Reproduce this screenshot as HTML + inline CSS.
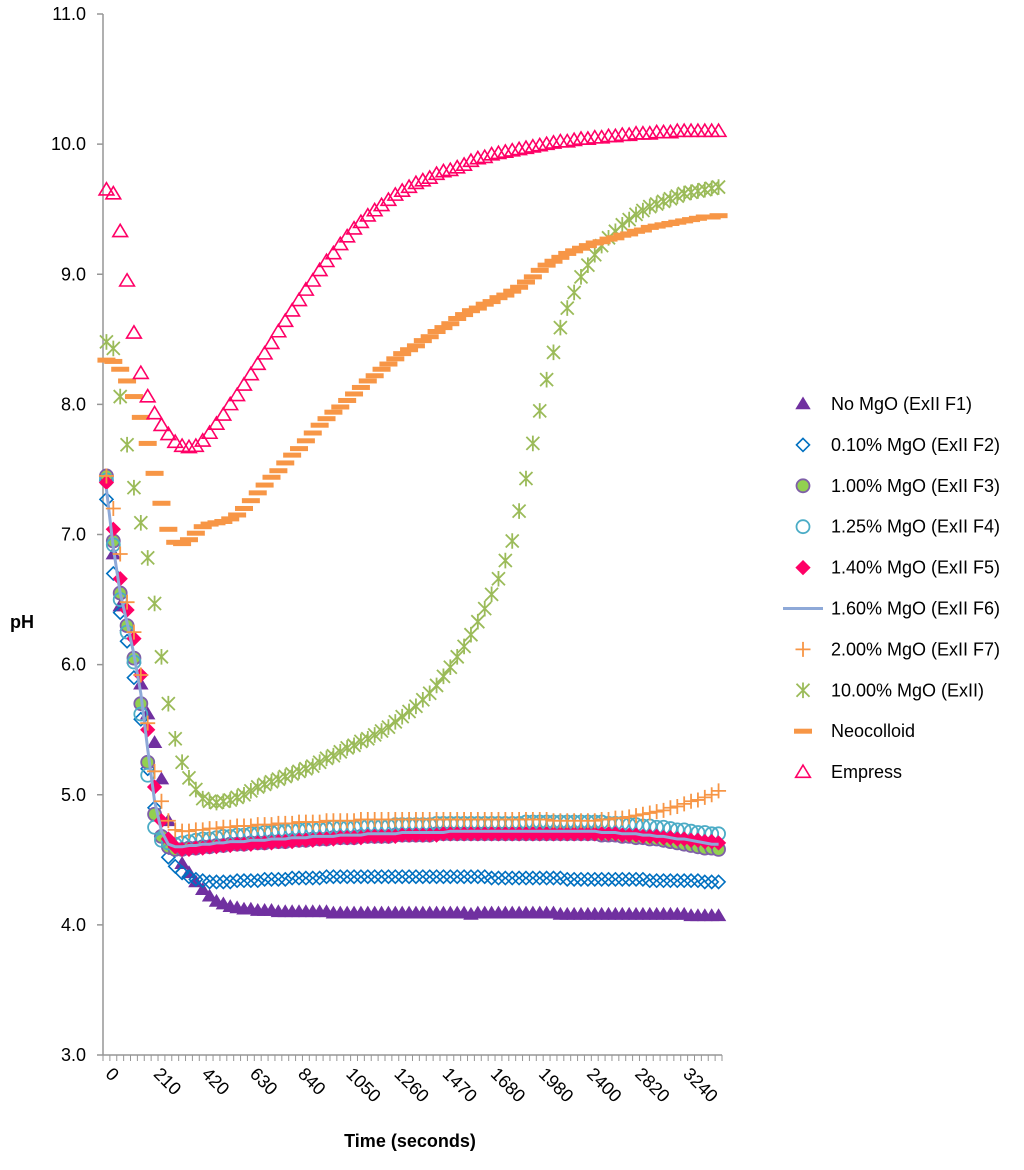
<!DOCTYPE html>
<html><head><meta charset="utf-8"><style>
body{margin:0;background:#fff;}
svg{display:block;font-family:"Liberation Sans",sans-serif;}
</style></head><body>
<svg id="chart" width="1024" height="1170" viewBox="0 0 1024 1170" xmlns="http://www.w3.org/2000/svg">
<rect width="1024" height="1170" fill="#fff"/>
<g id="grid"></g><g id="marks"></g><g id="legend"></g>
</svg>
<script>
const times=[0,30,60,90,120,150,180,210,240,270,300,330,360,390,420,450,480,510,540,570,600,630,660,690,720,750,780,810,840,870,900,930,960,990,1020,1050,1080,1110,1140,1170,1200,1230,1260,1290,1320,1350,1380,1410,1440,1470,1500,1530,1560,1590,1620,1650,1680,1710,1740,1770,1800,1860,1920,1980,2040,2100,2160,2220,2280,2340,2400,2460,2520,2580,2640,2700,2760,2820,2880,2940,3000,3060,3120,3180,3240,3300,3360,3420,3480,3540];
const tickLabels=["0","210","420","630","840","1050","1260","1470","1680","1980","2400","2820","3240"];
const yTicks=[3,4,5,6,7,8,9,10,11];
const noMgO=[7.45,6.85,6.45,6.30,6.05,5.85,5.62,5.40,5.12,4.80,4.58,4.47,4.40,4.33,4.27,4.22,4.18,4.16,4.14,4.13,4.12,4.12,4.11,4.11,4.11,4.10,4.10,4.10,4.10,4.10,4.10,4.10,4.10,4.09,4.09,4.09,4.09,4.09,4.09,4.09,4.09,4.09,4.09,4.09,4.09,4.09,4.09,4.09,4.09,4.09,4.09,4.09,4.09,4.08,4.09,4.09,4.09,4.09,4.09,4.09,4.09,4.09,4.09,4.09,4.09,4.09,4.08,4.08,4.08,4.08,4.08,4.08,4.08,4.08,4.08,4.08,4.08,4.08,4.08,4.08,4.08,4.08,4.08,4.08,4.08,4.07,4.07,4.07,4.07,4.07];
const mgo010=[7.27,6.70,6.40,6.18,5.90,5.58,5.20,4.90,4.68,4.52,4.45,4.40,4.37,4.35,4.34,4.33,4.33,4.33,4.33,4.34,4.34,4.34,4.34,4.35,4.35,4.35,4.35,4.36,4.36,4.36,4.36,4.36,4.37,4.37,4.37,4.37,4.37,4.37,4.37,4.37,4.37,4.37,4.37,4.37,4.37,4.37,4.37,4.37,4.37,4.37,4.37,4.37,4.37,4.37,4.37,4.37,4.36,4.36,4.36,4.36,4.36,4.36,4.36,4.36,4.36,4.36,4.36,4.35,4.35,4.35,4.35,4.35,4.35,4.35,4.35,4.35,4.35,4.35,4.35,4.34,4.34,4.34,4.34,4.34,4.34,4.34,4.34,4.33,4.33,4.33];
const mgo100=[7.45,6.95,6.55,6.30,6.05,5.70,5.25,4.85,4.68,4.60,4.58,4.58,4.59,4.59,4.60,4.60,4.61,4.61,4.62,4.62,4.62,4.63,4.63,4.63,4.64,4.64,4.64,4.65,4.65,4.65,4.66,4.66,4.66,4.67,4.67,4.67,4.67,4.68,4.68,4.68,4.68,4.68,4.69,4.69,4.69,4.69,4.69,4.69,4.70,4.70,4.70,4.70,4.70,4.70,4.70,4.70,4.70,4.70,4.70,4.70,4.70,4.70,4.70,4.70,4.70,4.70,4.70,4.70,4.70,4.70,4.70,4.70,4.69,4.69,4.69,4.68,4.68,4.67,4.67,4.66,4.66,4.65,4.64,4.63,4.62,4.61,4.60,4.59,4.59,4.58];
const mgo125=[7.42,6.92,6.50,6.25,6.02,5.62,5.15,4.75,4.65,4.63,4.62,4.63,4.64,4.65,4.66,4.66,4.67,4.68,4.68,4.69,4.69,4.70,4.70,4.71,4.71,4.72,4.72,4.73,4.73,4.73,4.74,4.74,4.74,4.75,4.75,4.75,4.75,4.76,4.76,4.76,4.76,4.76,4.77,4.77,4.77,4.77,4.77,4.77,4.78,4.78,4.78,4.78,4.78,4.78,4.78,4.78,4.78,4.78,4.78,4.78,4.78,4.79,4.79,4.79,4.79,4.79,4.79,4.79,4.79,4.79,4.79,4.79,4.79,4.78,4.78,4.78,4.77,4.77,4.76,4.76,4.75,4.75,4.74,4.73,4.73,4.72,4.71,4.71,4.70,4.70];
const mgo140=[7.40,7.04,6.66,6.42,6.20,5.92,5.50,5.06,4.80,4.66,4.60,4.58,4.58,4.59,4.59,4.60,4.60,4.61,4.61,4.62,4.62,4.62,4.63,4.63,4.63,4.64,4.64,4.64,4.65,4.65,4.65,4.66,4.66,4.66,4.67,4.67,4.67,4.67,4.68,4.68,4.68,4.68,4.68,4.69,4.69,4.69,4.69,4.69,4.69,4.70,4.70,4.70,4.70,4.70,4.70,4.70,4.70,4.70,4.70,4.70,4.70,4.70,4.70,4.70,4.70,4.70,4.70,4.70,4.70,4.70,4.70,4.70,4.70,4.70,4.70,4.69,4.69,4.69,4.68,4.68,4.68,4.67,4.67,4.66,4.66,4.65,4.65,4.64,4.64,4.63];
const mgo160=[7.35,6.90,6.55,6.32,6.08,5.78,5.35,4.95,4.72,4.62,4.60,4.60,4.61,4.61,4.62,4.62,4.63,4.63,4.64,4.64,4.64,4.65,4.65,4.65,4.66,4.66,4.66,4.67,4.67,4.67,4.68,4.68,4.68,4.68,4.69,4.69,4.69,4.69,4.70,4.70,4.70,4.70,4.70,4.71,4.71,4.71,4.71,4.71,4.71,4.71,4.72,4.72,4.72,4.72,4.72,4.72,4.72,4.72,4.72,4.72,4.72,4.72,4.72,4.72,4.72,4.72,4.72,4.72,4.72,4.72,4.72,4.72,4.71,4.71,4.71,4.70,4.70,4.70,4.69,4.69,4.68,4.68,4.67,4.66,4.66,4.65,4.64,4.63,4.62,4.62];
const mgo200=[7.45,7.20,6.85,6.48,6.25,5.92,5.55,5.18,4.95,4.80,4.73,4.72,4.72,4.73,4.73,4.74,4.74,4.75,4.75,4.76,4.76,4.76,4.77,4.77,4.77,4.78,4.78,4.78,4.79,4.79,4.79,4.79,4.80,4.80,4.80,4.80,4.80,4.81,4.81,4.81,4.81,4.81,4.81,4.81,4.81,4.81,4.81,4.81,4.81,4.81,4.81,4.81,4.81,4.81,4.81,4.81,4.81,4.81,4.81,4.81,4.81,4.81,4.81,4.81,4.81,4.80,4.80,4.80,4.80,4.80,4.80,4.80,4.81,4.81,4.82,4.82,4.83,4.84,4.85,4.86,4.87,4.88,4.90,4.91,4.93,4.95,4.96,4.98,5.00,5.03];
const mgo1000=[8.48,8.43,8.06,7.69,7.36,7.09,6.82,6.47,6.06,5.70,5.43,5.25,5.13,5.04,4.97,4.95,4.94,4.95,4.96,4.98,5.00,5.03,5.06,5.08,5.10,5.12,5.14,5.16,5.18,5.20,5.22,5.25,5.28,5.30,5.33,5.36,5.38,5.41,5.43,5.46,5.49,5.52,5.56,5.60,5.64,5.68,5.73,5.78,5.84,5.91,5.98,6.06,6.14,6.23,6.33,6.43,6.54,6.66,6.80,6.95,7.18,7.43,7.70,7.95,8.19,8.40,8.59,8.74,8.86,8.98,9.07,9.15,9.22,9.28,9.33,9.38,9.42,9.46,9.49,9.52,9.54,9.56,9.58,9.60,9.62,9.63,9.64,9.65,9.66,9.67];
const neocolloid=[8.34,8.33,8.27,8.18,8.06,7.90,7.70,7.47,7.24,7.04,6.94,6.93,6.96,7.01,7.06,7.08,7.09,7.10,7.12,7.15,7.20,7.26,7.32,7.38,7.44,7.49,7.55,7.61,7.66,7.72,7.78,7.84,7.89,7.94,7.98,8.03,8.08,8.13,8.18,8.22,8.27,8.31,8.35,8.39,8.42,8.45,8.49,8.52,8.56,8.59,8.62,8.66,8.69,8.72,8.74,8.77,8.79,8.82,8.84,8.87,8.90,8.94,8.98,9.03,9.07,9.10,9.13,9.16,9.18,9.20,9.22,9.24,9.25,9.27,9.28,9.30,9.31,9.33,9.34,9.36,9.37,9.38,9.39,9.40,9.41,9.42,9.43,9.44,9.44,9.45];
const empress=[9.65,9.62,9.33,8.95,8.55,8.24,8.06,7.93,7.84,7.77,7.71,7.68,7.67,7.68,7.72,7.78,7.85,7.92,8.00,8.07,8.15,8.23,8.31,8.39,8.47,8.56,8.64,8.72,8.80,8.88,8.95,9.03,9.10,9.16,9.23,9.29,9.35,9.40,9.45,9.49,9.53,9.57,9.61,9.64,9.67,9.70,9.72,9.74,9.77,9.79,9.80,9.82,9.84,9.87,9.89,9.90,9.92,9.93,9.94,9.95,9.96,9.97,9.98,9.99,10.00,10.01,10.02,10.02,10.03,10.04,10.04,10.05,10.05,10.06,10.06,10.07,10.07,10.08,10.08,10.08,10.09,10.09,10.09,10.10,10.10,10.10,10.10,10.10,10.10,10.10];
const seriesNames=["No MgO (ExII F1)","0.10% MgO (ExII F2)","1.00% MgO (ExII F3)","1.25% MgO (ExII F4)","1.40% MgO (ExII F5)","1.60% MgO (ExII F6)","2.00% MgO (ExII F7)","10.00% MgO (ExII)","Neocolloid","Empress"];

const NS="http://www.w3.org/2000/svg";
const X0=103,X1=722,Y0=1055,Y1=14,YMIN=3,YMAX=11;
const catW=(X1-X0)/times.length;
function xPos(i){return X0+catW*(i+0.5);}
function yPos(v){return Y0-(v-YMIN)/(YMAX-YMIN)*(Y0-Y1);}
function mk(tag,attrs,parent){const e=document.createElementNS(NS,tag);for(const k in attrs)e.setAttribute(k,attrs[k]);parent.appendChild(e);return e;}
const grid=document.getElementById('grid'),marks=document.getElementById('marks'),legend=document.getElementById('legend');

let yAxis=mk('line',{x1:X0,y1:Y1,x2:X0,y2:Y0,stroke:'#969696','stroke-width':1.5},grid);


let xAxis=mk('line',{x1:X0,y1:Y0,x2:X1,y2:Y0,stroke:'#969696','stroke-width':1.5},grid);


yTicks.forEach(v=>{
  const y=yPos(v);
  mk('line',{x1:X0-6,y1:y,x2:X0,y2:y,stroke:'#969696','stroke-width':1.5},grid);
  const t=mk('text',{x:X0-17,y:y+6,'text-anchor':'end','font-size':18,fill:'#000'},grid);
  t.textContent=v.toFixed(1);
  
  
});
for(let i=0;i<=times.length;i++){
  const x=X0+catW*i;
  mk('line',{x1:x,y1:Y0,x2:x,y2:Y0+6,stroke:'#969696','stroke-width':1},grid);
}
tickLabels.forEach(lbl=>{
  const i=times.indexOf(Number(lbl));
  const x=xPos(i)-2,y=Y0+20;
  const t=mk('text',{x:x,y:y,transform:`rotate(45 ${x} ${y})`,'font-size':18,fill:'#000'},grid);
  t.textContent=lbl;
  
  
});
let yt=mk('text',{x:22,y:628,'font-size':18,'font-weight':'bold','text-anchor':'middle'},grid);
yt.textContent='pH';


let xt=mk('text',{x:410,y:1147,'font-size':18,'font-weight':'bold','text-anchor':'middle'},grid);
xt.textContent='Time (seconds)';



function tri(p,x,y,fill,stroke,s){return mk('polygon',{points:`${x},${y-s} ${x+s*1.05},${y+s*0.75} ${x-s*1.05},${y+s*0.75}`,fill:fill,stroke:stroke,'stroke-width':1.6},p);}
function diamond(p,x,y,fill,stroke,s){return mk('polygon',{points:`${x},${y-s} ${x+s},${y} ${x},${y+s} ${x-s},${y}`,fill:fill,stroke:stroke,'stroke-width':1.6},p);}
function circ(p,x,y,fill,stroke,s){return mk('circle',{cx:x,cy:y,r:s,fill:fill,stroke:stroke,'stroke-width':1.8},p);}
function plus(p,x,y,c,s){return mk('path',{d:`M${x-s},${y}H${x+s}M${x},${y-s}V${y+s}`,stroke:c,'stroke-width':1.8,fill:'none'},p);}
function star(p,x,y,c,s){return mk('path',{d:`M${x-s},${y-s}L${x+s},${y+s}M${x-s},${y+s}L${x+s},${y-s}M${x},${y-s*1.2}V${y+s*1.2}`,stroke:c,'stroke-width':1.8,fill:'none'},p);}
function dash(p,x,y,c){return mk('rect',{x:x-9,y:y-2.5,width:18,height:5,fill:c},p);}

const styles=[
 (p,x,y)=>tri(p,x,y,'#7030A0','#7030A0',6),
 (p,x,y)=>diamond(p,x,y,'none','#0070C0',6.5),
 (p,x,y)=>circ(p,x,y,'#92D050','#7F5FA8',6.5),
 (p,x,y)=>circ(p,x,y,'none','#4BACC6',6.5),
 (p,x,y)=>diamond(p,x,y,'#FF0066','#FF0066',6.5),
 null,
 (p,x,y)=>plus(p,x,y,'#F79646',7.5),
 (p,x,y)=>star(p,x,y,'#9BBB59',6.5),
 (p,x,y)=>dash(p,x,y,'#F79646'),
 (p,x,y)=>tri(p,x,y,'none','#FF0066',7)
];
const allSeries=[noMgO,mgo010,mgo100,mgo125,mgo140,mgo160,mgo200,mgo1000,neocolloid,empress];
const seriesKeys=['series-no-mgo','series-010-mgo','series-100-mgo','series-125-mgo','series-140-mgo','series-160-mgo','series-200-mgo','series-1000-mgo','series-neocolloid','series-empress'];
allSeries.forEach((data,si)=>{
  const g=mk('g',{},marks);
  
  
  if(styles[si]===null){
    const d=data.map((v,i)=>(i?'L':'M')+xPos(i).toFixed(1)+','+yPos(v).toFixed(1)).join('');
    const pth=mk('path',{d:d,stroke:'#8EA9D8','stroke-width':3,fill:'none'},g);
    
    
  } else {
    data.forEach((v,i)=>{
      const m=styles[si](g,xPos(i),yPos(v));
      
      
    });
  }
});

seriesNames.forEach((n,i)=>{
  const y=404+i*40.9;
  const g=mk('g',{},legend);
  
  
  if(styles[i]===null){mk('line',{x1:783,y1:y,x2:823,y2:y,stroke:'#8EA9D8','stroke-width':3},g);}
  else styles[i](g,803,y);
  const t=mk('text',{x:831,y:y+6,'font-size':18,fill:'#000'},g);
  t.textContent=n;
});
</script>
</body></html>
